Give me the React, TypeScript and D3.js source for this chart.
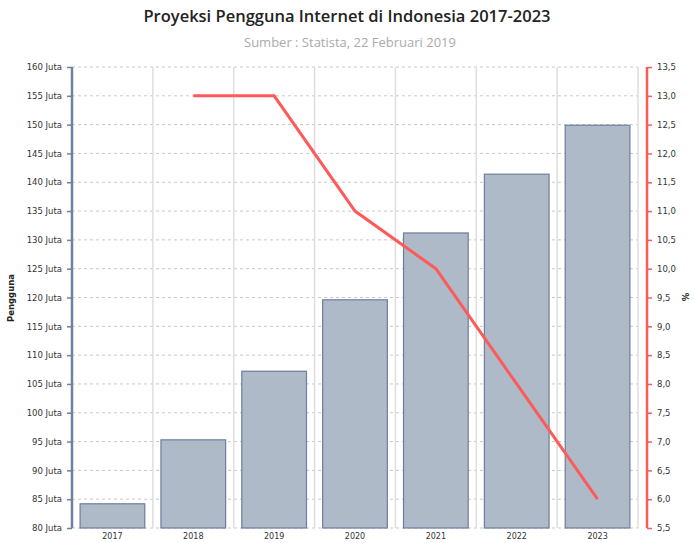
import React, { useEffect, useRef } from "react";
import * as d3 from "d3";

const years = ["2017", "2018", "2019", "2020", "2021", "2022", "2023"];
const users = [84.2, 95.3, 107.2, 119.6, 131.2, 141.4, 149.9];
const growth: (number | null)[] = [null, 13.0, 13.0, 11.0, 10.0, 8.0, 6.0];
const leftTicks = [80, 85, 90, 95, 100, 105, 110, 115, 120, 125, 130, 135, 140, 145, 150, 155, 160];
const rightTicks = [5.5, 6, 6.5, 7, 7.5, 8, 8.5, 9, 9.5, 10, 10.5, 11, 11.5, 12, 12.5, 13, 13.5];

export default function App() {
  const ref = useRef<SVGSVGElement>(null);

  useEffect(() => {
    const svg = d3.select(ref.current);
    svg.selectAll("*").remove();

    const margin = { top: 67, right: 57, bottom: 15, left: 72 };
    const width = 695 - margin.left - margin.right;
    const height = 543 - margin.top - margin.bottom;

    // title
    svg.append("text")
      .attr("x", 347).attr("y", 22)
      .attr("text-anchor", "middle")
      .attr("font-family", "Open Sans")
      .attr("font-size", 16.5)
      .attr("font-weight", 600)
      .attr("fill", "#222")
      .text("Proyeksi Pengguna Internet di Indonesia 2017-2023");
    svg.append("text")
      .attr("x", 350).attr("y", 47)
      .attr("text-anchor", "middle")
      .attr("font-family", "Open Sans")
      .attr("font-size", 13)
      .attr("fill", "#aaa")
      .text("Sumber : Statista, 22 Februari 2019");

    const g = svg.append("g").attr("transform", `translate(${margin.left},${margin.top})`);

    const x = d3.scaleBand().domain(years).range([0, width]).paddingInner(0.2).paddingOuter(0.1);
    const xb = d3.scaleBand().domain(years).range([0, width]);
    const y = d3.scaleLinear().domain([80, 160]).range([height, 0]);
    const y2 = d3.scaleLinear().domain([5.5, 13.5]).range([height, 0]);

    // horizontal grid
    g.append("g").selectAll("line").data(leftTicks).join("line")
      .attr("x1", 0).attr("x2", width)
      .attr("y1", (d) => y(d)).attr("y2", (d) => y(d))
      .attr("stroke", "#c8c8c8").attr("stroke-dasharray", "3,3");

    // vertical grid
    g.append("g").selectAll("line").data(years).join("line")
      .attr("x1", (d) => (xb(d) as number) + xb.bandwidth())
      .attr("x2", (d) => (xb(d) as number) + xb.bandwidth())
      .attr("y1", 0).attr("y2", height)
      .attr("stroke", "#dedede").attr("stroke-width", 1.5);

    // bars
    g.append("g").selectAll("rect").data(users).join("rect")
      .attr("x", (d, i) => x(years[i]) as number)
      .attr("width", x.bandwidth())
      .attr("y", (d) => y(d))
      .attr("height", (d) => height - y(d))
      .attr("fill", "#afbac9")
      .attr("stroke", "#6c7e9b")
      .attr("stroke-width", 1.2);

    // line
    const pts = growth.map((v, i) => ({ v, yr: years[i] })).filter((p) => p.v !== null);
    const line = d3.line<{ v: number | null; yr: string }>()
      .x((d) => (xb(d.yr) as number) + xb.bandwidth() / 2)
      .y((d) => y2(d.v as number));
    g.append("path")
      .datum(pts)
      .attr("fill", "none")
      .attr("stroke", "#fd5a5a")
      .attr("stroke-width", 3)
      .attr("d", line);

    // left axis
    const yAxis = d3.axisLeft(y).tickValues(leftTicks).tickSize(5).tickFormat((d) => `${d} Juta`);
    const ya = g.append("g").call(yAxis);
    ya.select(".domain").attr("stroke", "#6f819e").attr("stroke-width", 2.5).attr("d", `M0,0V${height}`);
    ya.selectAll(".tick line").attr("stroke", "#6f819e").attr("stroke-width", 1.5);
    ya.selectAll("text").attr("font-family", "DejaVu Sans").attr("font-size", 8.5).attr("fill", "#333").attr("dx", "-2");

    // right axis
    const y2Axis = d3.axisRight(y2).tickValues(rightTicks).tickSize(5)
      .tickFormat((d) => d3.format(".1f")(d as number).replace(".", ","));
    const ra = g.append("g").attr("transform", `translate(${width + 9},0)`).call(y2Axis);
    ra.select(".domain").attr("stroke", "#ff5a5a").attr("stroke-width", 2.5).attr("d", `M0,0V${height}`);
    ra.selectAll(".tick line").attr("stroke", "#ff5a5a").attr("stroke-width", 1.5);
    ra.selectAll("text").attr("font-family", "DejaVu Sans").attr("font-size", 8.5).attr("fill", "#333").attr("dx", "2");

    // x axis
    const xAxis = d3.axisBottom(xb).tickSize(0);
    const xa = g.append("g").attr("transform", `translate(0,${height})`).call(xAxis);
    xa.select(".domain").remove();
    xa.selectAll("text").attr("font-family", "DejaVu Sans").attr("font-size", 8).attr("fill", "#333").attr("dy", "1.05em");

    // axis titles
    svg.append("text")
      .attr("transform", "translate(14,298) rotate(-90)")
      .attr("text-anchor", "middle")
      .attr("font-family", "DejaVu Sans")
      .attr("font-size", 8.5)
      .attr("font-weight", "bold")
      .attr("fill", "#222")
      .text("Pengguna");
    svg.append("text")
      .attr("transform", "translate(689,297) rotate(-90)")
      .attr("text-anchor", "middle")
      .attr("font-family", "DejaVu Sans")
      .attr("font-size", 8.5)
      .attr("font-weight", "bold")
      .attr("fill", "#222")
      .text("%");
  }, []);

  return (
    <svg ref={ref} width={695} height={543} style={{ position: "absolute", left: 0, top: 0, background: "#fff" }} />
  );
}
